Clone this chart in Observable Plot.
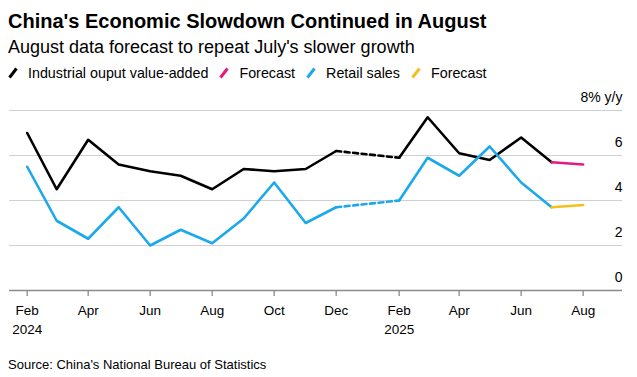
<!DOCTYPE html>
<html>
<head>
<meta charset="utf-8">
<script src="https://cdn.jsdelivr.net/npm/d3@7"></script>
<script src="https://cdn.jsdelivr.net/npm/@observablehq/plot@0.6"></script>
<style>
  body { margin: 0; background: #fff; font-family: "Liberation Sans", Arial, sans-serif; color: #000; width: 637px; overflow: hidden; }
  .title { font-weight: bold; font-size: 20px; line-height: 26px; margin: 8px 0 0 8px; white-space: nowrap; }
  .subtitle { font-size: 18px; line-height: 26px; margin-left: 8px; white-space: nowrap; }
  .legend { font-size: 14.3px; line-height: 26px; margin-left: 8px; white-space: nowrap; display: flex; align-items: center; }
  .legend .item { display: inline-flex; align-items: center; margin-right: 11px; }
  .legend svg { margin-right: 10px; }
  .source { font-size: 13px; line-height: 20px; margin: 9px 0 0 8px; }
  #chart svg { display: block; }
</style>
</head>
<body>
<div class="title">China's Economic Slowdown Continued in August</div>
<div class="subtitle">August data forecast to repeat July's slower growth</div>
<div class="legend" id="legend"></div>
<div id="chart"></div>
<div class="source">Source: China's National Bureau of Statistics</div>
<script>
// ---- Data ----
const months = ["2024-02","2024-03","2024-04","2024-05","2024-06","2024-07","2024-08","2024-09","2024-10","2024-11","2024-12",
                "2025-02","2025-03","2025-04","2025-05","2025-06","2025-07"];
const industrial = [7.0, 4.5, 6.7, 5.6, 5.3, 5.1, 4.5, 5.4, 5.3, 5.4, 6.2,
                    5.9, 7.7, 6.1, 5.8, 6.8, 5.7];
const retail = [5.5, 3.1, 2.3, 3.7, 2.0, 2.7, 2.1, 3.2, 4.8, 3.0, 3.7,
                4.0, 5.9, 5.1, 6.4, 4.8, 3.7];
const forecastMonth = "2025-08";
const industrialForecast = 5.6;
const retailForecast = 3.8;
const tickMonths = ["2024-02","2024-04","2024-06","2024-08","2024-10","2024-12","2025-02","2025-04","2025-06","2025-08"];
const yTicks = [0, 2, 4, 6, 8];
const legendItems = ["Industrial ouput value-added", "Forecast", "Retail sales", "Forecast"];

const colors = { ind: "#000000", indF: "#e5197e", ret: "#1ba9ec", retF: "#f4c01c" };

const parse = d3.utcParse("%Y-%m");
const rows = (vals) => months.map((m, i) => ({ date: parse(m), value: vals[i] }));
const ind = rows(industrial);
const ret = rows(retail);
const gap = 10; // index of Dec 2024, next point is Feb 2025 (no January data)
const segs = (arr, fc) => ({
  a: arr.slice(0, gap + 1),
  dash: arr.slice(gap, gap + 2),
  b: arr.slice(gap + 1),
  f: [arr[arr.length - 1], { date: parse(forecastMonth), value: fc }]
});
const I = segs(ind, industrialForecast);
const R = segs(ret, retailForecast);

// legend
const leg = document.getElementById("legend");
[colors.ind, colors.indF, colors.ret, colors.retF].forEach((c, i) => {
  const span = document.createElement("span");
  span.className = "item";
  span.innerHTML = `<svg width="10" height="12"><line x1="1.5" y1="10.5" x2="8.5" y2="1.5" stroke="${c}" stroke-width="3" stroke-linecap="butt"/></svg><span>${legendItems[i]}</span>`;
  leg.appendChild(span);
});

const monthFmt = d3.utcFormat("%b");
const chart = Plot.plot({
  width: 637,
  height: 260,
  marginTop: 24,
  marginBottom: 56,
  marginLeft: 9,
  marginRight: 15,
  style: { fontFamily: "Liberation Sans, Arial, sans-serif", fontSize: "13px", color: "#000" },
  x: { type: "utc", label: null, domain: [new Date(Date.UTC(2024, 0, 14, 14)), new Date(Date.UTC(2025, 8, 8, 17))] },
  y: { label: null, domain: [0, 8] },
  marks: [
    Plot.gridY(yTicks.filter(d => d > 0), { stroke: "#d0d0d0", strokeOpacity: 1, strokeWidth: 1 }),
    Plot.ruleY([0], { stroke: "#8a8a8a", strokeWidth: 1.6 }),
    Plot.axisX(tickMonths.map(parse), {
      label: null,
      tickSize: 6, tickPadding: 6, stroke: "#8a8a8a", strokeWidth: 1.3,
      fontSize: 13.5, lineHeight: 1.35, fill: "#000",
      tickFormat: d => d.getUTCMonth() === 1 ? `${monthFmt(d)}\n${d.getUTCFullYear()}` : monthFmt(d)
    }),
    Plot.axisY(yTicks, {
      label: null,
      anchor: "right", tickSize: 0, tickPadding: 0, textAnchor: "end", dy: -13, dx: 0,
      fontSize: 14, fill: "#000",
      tickFormat: d => d === 8 ? "8% y/y" : String(d)
    }),
    Plot.line(I.a, { x: "date", y: "value", stroke: colors.ind, strokeWidth: 2.6 }),
    Plot.line(I.dash, { x: "date", y: "value", stroke: colors.ind, strokeWidth: 2.6, strokeDasharray: "5,3.5" }),
    Plot.line(I.b, { x: "date", y: "value", stroke: colors.ind, strokeWidth: 2.6 }),
    Plot.line(R.a, { x: "date", y: "value", stroke: colors.ret, strokeWidth: 2.6 }),
    Plot.line(R.dash, { x: "date", y: "value", stroke: colors.ret, strokeWidth: 2.6, strokeDasharray: "5,3.5" }),
    Plot.line(R.b, { x: "date", y: "value", stroke: colors.ret, strokeWidth: 2.6 }),
    Plot.line(I.f, { x: "date", y: "value", stroke: colors.indF, strokeWidth: 2.6 }),
    Plot.line(R.f, { x: "date", y: "value", stroke: colors.retF, strokeWidth: 2.6 })
  ]
});
document.getElementById("chart").appendChild(chart);
</script>
</body>
</html>
